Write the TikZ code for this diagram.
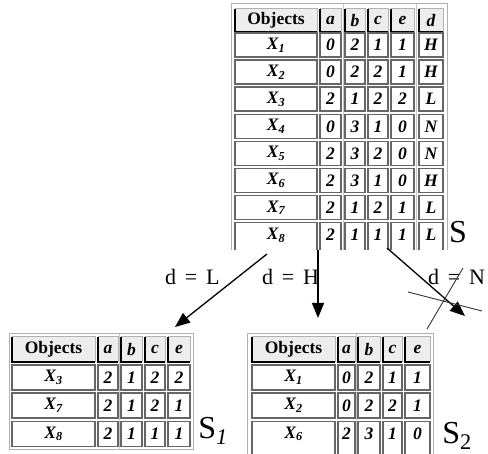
\documentclass[tikz,border=0pt]{standalone}
\usepackage{fontspec}
\setmainfont{Liberation Serif}
\usetikzlibrary{arrows.meta}
\newcommand\HdrCell[6]{%
  \fill[hdrfill] (#2,#3) rectangle (#4,#5);
  \draw[hdrlight] (#2,#3) -- (#4,#3) -- (#4,#5);
  \draw[hdrdark] (#2,#3) -- (#2,#5) -- (#4,#5);
  \node[celltext] (#1) at ({(#2+#4)/2},{(#3+#5)/2}) {#6};}
\newcommand\DatCell[6]{%
  \draw[datbox,fill=white] (#2,#3) rectangle (#4,#5);
  \node[celltext] (#1) at ({(#2+#4)/2},{(#3+#5)/2}) {\itshape #6};}
\newcommand\OpenCell[6]{%
  \fill[white] (#2,#3) rectangle (#4,#5);
  \draw[datbox] (#2,#5) -- (#2,#3) -- (#4,#3) -- (#4,#5);
  \node[celltext] (#1) at ({(#2+#4)/2},{#3+12.5}) {\itshape #6};}
\newcommand\Gap{\hspace{0.4em}}
\begin{document}
\begin{tikzpicture}[x=1pt,y=-1pt,
  hdrfill/.style={fill=black!7},
  hdrlight/.style={draw=black!30,line width=1pt},
  hdrdark/.style={draw=black,line width=2.2pt},
  datbox/.style={draw=black!60,line width=1.4pt},
  outer/.style={draw=black!30,line width=1pt},
  gapline/.style={draw=black!22,line width=0.8pt},
  celltext/.style={font=\fontsize{17.5}{19}\selectfont\bfseries, inner sep=0pt},
  lbl/.style={font=\fontsize{22}{24}\selectfont, inner sep=0pt, anchor=base west},
  setlbl/.style={font=\fontsize{32}{34}\selectfont, inner sep=0pt},
  arr/.style={line width=1.3pt, -{Triangle[length=15pt,width=12pt]}},
  cross/.style={draw=black!80, line width=0.9pt}
]
\useasboundingbox (0,0) rectangle (488,454);
\fill[white] (0,0) rectangle (488,454);

% ---------- table S ----------
\draw[outer] (231,250) -- (231,4) -- (447,4) -- (447,250);
\draw[gapline] (343,4) -- (343,250);
\draw[gapline] (416.5,4) -- (416.5,250);
\HdrCell{th0}{235}{9}{317}{32}{Objects}
\foreach \xa/\xb/\lab [count=\j] in {320/341/a,345/365/b,368/388/c,391/414/e,419/443/d}{
  \HdrCell{th\j}{\xa}{9}{\xb}{32}{\itshape \lab}
}
\foreach \s/\va/\vb/\vc/\ve/\vd [count=\i] in
  {1/0/2/1/1/H, 2/0/2/2/1/H, 3/2/1/2/2/L, 4/0/3/1/0/N, 5/2/3/2/0/N, 6/2/3/1/0/H, 7/2/1/2/1/L}{
  \pgfmathsetmacro\yt{33+27.1*(\i-1)}
  \pgfmathsetmacro\yb{\yt+24}
  \DatCell{t\i-o}{235}{\yt}{317}{\yb}{X\textsubscript{\s}}
  \DatCell{t\i-a}{320}{\yt}{341}{\yb}{\va}
  \DatCell{t\i-b}{345}{\yt}{365}{\yb}{\vb}
  \DatCell{t\i-c}{368}{\yt}{388}{\yb}{\vc}
  \DatCell{t\i-e}{391}{\yt}{414}{\yb}{\ve}
  \DatCell{t\i-d}{419}{\yt}{443}{\yb}{\vd}
}
\OpenCell{t8-o}{235}{222.7}{317}{250}{X\textsubscript{8}}
\OpenCell{t8-a}{320}{222.7}{341}{250}{2}
\OpenCell{t8-b}{345}{222.7}{365}{250}{1}
\OpenCell{t8-c}{368}{222.7}{388}{250}{1}
\OpenCell{t8-e}{391}{222.7}{414}{250}{1}
\OpenCell{t8-d}{419}{222.7}{443}{250}{L}
\node[setlbl] (S) at (458,232) {S};

% ---------- table S1 ----------
\draw[outer] (9,334) rectangle (193,450);
\draw[gapline] (119.5,334) -- (119.5,450);
\HdrCell{ah0}{12}{337}{95}{362}{Objects}
\foreach \xa/\xb/\lab [count=\j] in {98/118/a,121/142/b,145/165/c,168/190/e}{
  \HdrCell{ah\j}{\xa}{337}{\xb}{362}{\itshape \lab}
}
\foreach \s/\va/\vb/\vc/\ve/\yt in {3/2/1/2/2/365, 7/2/1/2/1/393, 8/2/1/1/1/421.5}{
  \pgfmathsetmacro\yb{\yt+25}
  \DatCell{a\s-o}{12}{\yt}{95}{\yb}{X\textsubscript{\s}}
  \DatCell{a\s-a}{98}{\yt}{118}{\yb}{\va}
  \DatCell{a\s-b}{121}{\yt}{142}{\yb}{\vb}
  \DatCell{a\s-c}{145}{\yt}{165}{\yb}{\vc}
  \DatCell{a\s-e}{168}{\yt}{190}{\yb}{\ve}
}
\node[setlbl] (S1) at (213,431) {S\textsubscript{\itshape 1}};

% ---------- table S2 ----------
\draw[outer] (247,454) -- (247,334) -- (433,334) -- (433,454);
\draw[gapline] (356.5,334) -- (356.5,454);
\HdrCell{bh0}{252}{337}{335}{362}{Objects}
\foreach \xa/\xb/\lab [count=\j] in {338/355/a,358/380/b,383/402/c,405/430/e}{
  \HdrCell{bh\j}{\xa}{337}{\xb}{362}{\itshape \lab}
}
\foreach \s/\va/\vb/\vc/\ve/\yt in {1/0/2/1/1/365, 2/0/2/2/1/393}{
  \pgfmathsetmacro\yb{\yt+25}
  \DatCell{b\s-o}{252}{\yt}{335}{\yb}{X\textsubscript{\s}}
  \DatCell{b\s-a}{338}{\yt}{355}{\yb}{\va}
  \DatCell{b\s-b}{358}{\yt}{380}{\yb}{\vb}
  \DatCell{b\s-c}{383}{\yt}{402}{\yb}{\vc}
  \DatCell{b\s-e}{405}{\yt}{430}{\yb}{\ve}
}
\OpenCell{b6-o}{252}{421.5}{335}{454}{X\textsubscript{6}}
\OpenCell{b6-a}{338}{421.5}{355}{454}{2}
\OpenCell{b6-b}{358}{421.5}{380}{454}{3}
\OpenCell{b6-c}{383}{421.5}{402}{454}{1}
\OpenCell{b6-e}{405}{421.5}{430}{454}{0}
\node[setlbl] (S2) at (457,436) {S\textsubscript{2}};

% ---------- arrows ----------
\coordinate (Lst) at (267,254);
\coordinate (Lend) at (175,327);
\coordinate (Hst) at (318,250);
\coordinate (Hend) at (318,318);
\coordinate (Nst) at (387,248);
\coordinate (Nend) at (465,316);
\draw[arr] (Lst) -- (Lend);
\draw[arr] (Hst) -- (Hend);
\draw[arr] (Nst) -- (Nend);
\node[lbl] (lL) at (165,285) {d\Gap=\Gap L};
\node[lbl] (lH) at (262,285) {d\Gap=\Gap H};
\node[lbl] (lN) at (428,285) {d\Gap=\Gap N};
\coordinate (x1a) at (408,292);
\coordinate (x1b) at (482,311);
\coordinate (x2a) at (427,329);
\coordinate (x2b) at (463,268);
\draw[cross] (x1a) -- (x1b);
\draw[cross] (x2a) -- (x2b);
\end{tikzpicture}
\end{document}
